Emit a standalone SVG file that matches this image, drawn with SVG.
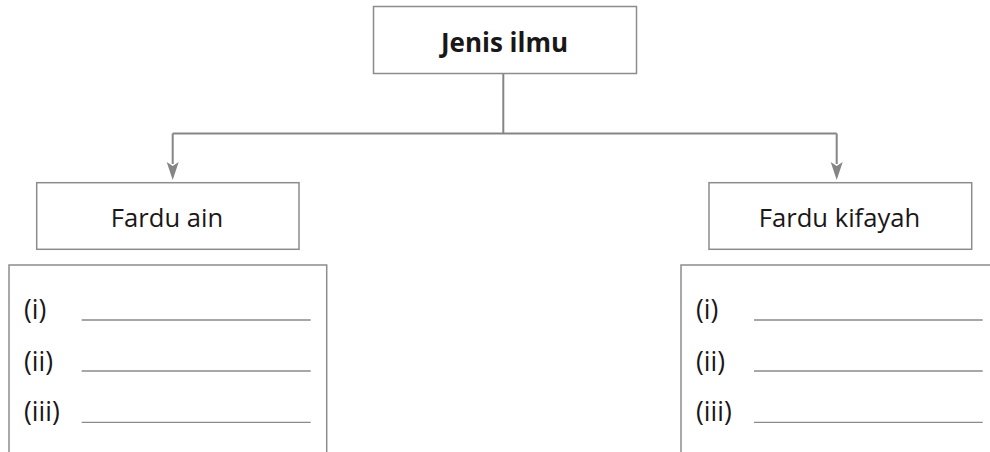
<svg xmlns="http://www.w3.org/2000/svg" width="990" height="452" viewBox="0 0 990 452">
<style>
.box{fill:#fff;stroke:#8c8c8c;stroke-width:1.5}
.conn{fill:none;stroke:#858585;stroke-width:2}
.ln{stroke:#8a8a8a;stroke-width:1.3}
.t{font-family:"Open Sans","Noto Sans",sans-serif;fill:#1a1718}
.h{font-size:25.6px;text-anchor:middle}
.b{font-weight:bold;font-size:26px;text-anchor:middle}
.l{font-size:26.5px}
</style>
<rect width="990" height="452" fill="#fff"/>
<g id="connectors">
<line class="conn" x1="503.3" y1="73.5" x2="503.3" y2="133.5"/>
<line class="conn" x1="172.7" y1="133.5" x2="836.7" y2="133.5"/>
<path class="conn" d="M172.7,133.5 V164"/>
<path class="conn" d="M836.7,133.5 V164"/>
<path d="M166.7,162 L172.7,166 L178.7,162 L172.7,180 Z" fill="#858585"/>
<path d="M830.7,162 L836.7,166 L842.7,162 L836.7,180 Z" fill="#858585"/>
</g>
<g id="jenis-ilmu">
<rect class="box" x="373.5" y="6.5" width="263" height="67"/>
<text class="t b" x="504.5" y="51.5">Jenis ilmu</text>
</g>
<g id="fardu-ain">
<rect class="box" x="36.7" y="182.7" width="262.3" height="66.6"/>
<text class="t h" x="167" y="226.7">Fardu ain</text>
</g>
<g id="fardu-kifayah">
<rect class="box" x="709" y="182.7" width="262.7" height="66.6"/>
<text class="t h" x="839.5" y="226.7">Fardu kifayah</text>
</g>
<g id="list-ain">
<rect class="box" x="9" y="265" width="317.7" height="200"/>
<text class="t l" x="24" y="319">(i)</text>
<text class="t l" x="24" y="370.5">(ii)</text>
<text class="t l" x="24" y="421">(iii)</text>
<line class="ln" x1="81.7" y1="320" x2="310.7" y2="320"/>
<line class="ln" x1="81.7" y1="371" x2="310.7" y2="371"/>
<line class="ln" x1="81.7" y1="422.3" x2="310.7" y2="422.3"/>
</g>
<g id="list-kifayah">
<rect class="box" x="681" y="265" width="330" height="200"/>
<text class="t l" x="696" y="319">(i)</text>
<text class="t l" x="696" y="370.5">(ii)</text>
<text class="t l" x="696" y="421">(iii)</text>
<line class="ln" x1="754" y1="320" x2="982.7" y2="320"/>
<line class="ln" x1="754" y1="371" x2="982.7" y2="371"/>
<line class="ln" x1="754" y1="422.3" x2="982.7" y2="422.3"/>
</g>
</svg>
